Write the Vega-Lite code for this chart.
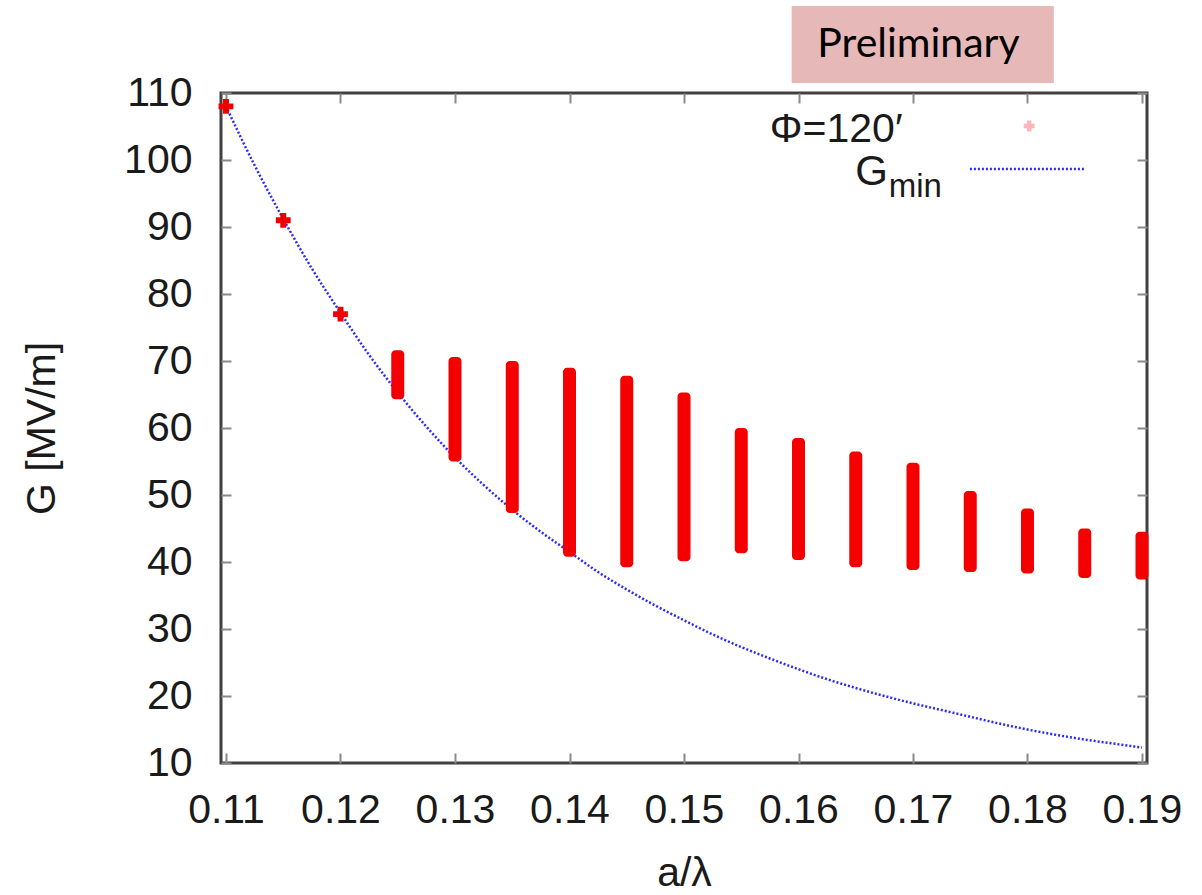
{
  "$schema": "https://vega.github.io/schema/vega-lite/v6.json",
  "width": 926,
  "height": 670,
  "autosize": "none",
  "padding": {"left": 221, "top": 93, "right": 55, "bottom": 132},
  "background": "white",
  "config": {
    "view": {"stroke": "#404040", "strokeWidth": 3},
    "font": "Liberation Sans",
    "axis": {
      "labelFont": "Liberation Sans",
      "titleFont": "Liberation Sans",
      "labelFontSize": 41,
      "titleFontSize": 41,
      "titleFontWeight": "normal",
      "labelColor": "#1a1a1a",
      "titleColor": "#1a1a1a",
      "grid": false,
      "domain": false,
      "tickColor": "#8a8a8a",
      "tickWidth": 2,
      "tickSize": -10
    }
  },
  "datasets": {
    "curve": [
      {"a": 0.11, "G": 108}, {"a": 0.1125, "G": 99.2}, {"a": 0.115, "G": 91.2}, {"a": 0.1175, "G": 83.8},
      {"a": 0.12, "G": 77.2}, {"a": 0.1225, "G": 70.9}, {"a": 0.125, "G": 65.3}, {"a": 0.1275, "G": 60.2},
      {"a": 0.13, "G": 55.6}, {"a": 0.1325, "G": 51.5}, {"a": 0.135, "G": 47.8}, {"a": 0.1375, "G": 44.5},
      {"a": 0.14, "G": 41.5}, {"a": 0.1425, "G": 38.5}, {"a": 0.145, "G": 35.9}, {"a": 0.1475, "G": 33.5},
      {"a": 0.15, "G": 31.3}, {"a": 0.1525, "G": 29.2}, {"a": 0.155, "G": 27.3}, {"a": 0.1575, "G": 25.6},
      {"a": 0.16, "G": 24.0}, {"a": 0.1625, "G": 22.5}, {"a": 0.165, "G": 21.2}, {"a": 0.1675, "G": 20.0},
      {"a": 0.17, "G": 18.9}, {"a": 0.1725, "G": 17.9}, {"a": 0.175, "G": 16.9}, {"a": 0.1775, "G": 15.9},
      {"a": 0.18, "G": 15.0}, {"a": 0.1825, "G": 14.2}, {"a": 0.185, "G": 13.5}, {"a": 0.1875, "G": 12.9},
      {"a": 0.19, "G": 12.3}
    ],
    "columns": [
      {"a": 0.125, "lo": 64.3, "hi": 71.6},
      {"a": 0.13, "lo": 55.0, "hi": 70.6},
      {"a": 0.135, "lo": 47.3, "hi": 70.0},
      {"a": 0.14, "lo": 40.8, "hi": 69.0},
      {"a": 0.145, "lo": 39.2, "hi": 67.8},
      {"a": 0.15, "lo": 40.1, "hi": 65.3},
      {"a": 0.155, "lo": 41.3, "hi": 60.0},
      {"a": 0.16, "lo": 40.3, "hi": 58.5},
      {"a": 0.165, "lo": 39.2, "hi": 56.5},
      {"a": 0.17, "lo": 38.8, "hi": 54.8},
      {"a": 0.175, "lo": 38.5, "hi": 50.6},
      {"a": 0.18, "lo": 38.3, "hi": 48.0},
      {"a": 0.185, "lo": 37.6, "hi": 45.0},
      {"a": 0.19, "lo": 37.4, "hi": 44.5}
    ],
    "single": [
      {"a": 0.11, "G": 108},
      {"a": 0.115, "G": 91},
      {"a": 0.12, "G": 77}
    ],
    "one": [{"k": 1}]
  },
  "resolve": {"axis": {"x": "independent", "y": "independent"}},
  "layer": [
    {
      "data": {"name": "curve"},
      "mark": {"type": "line", "interpolate": "monotone", "stroke": "#2a2aff", "strokeWidth": 2.5, "strokeDash": [2, 2], "clip": true},
      "encoding": {
        "x": {
          "field": "a", "type": "quantitative",
          "scale": {"domain": [0.11, 0.19], "nice": false, "zero": false},
          "axis": {"orient": "bottom", "values": [0.11, 0.12, 0.13, 0.14, 0.15, 0.16, 0.17, 0.18, 0.19], "format": ".2f", "labelPadding": 37, "labelBaseline": "top", "labelFlush": false, "title": "a/λ", "titlePadding": 23}
        },
        "y": {
          "field": "G", "type": "quantitative",
          "scale": {"domain": [10, 110], "nice": false, "zero": false},
          "axis": {"orient": "left", "values": [10, 20, 30, 40, 50, 60, 70, 80, 90, 100, 110], "labelPadding": 39, "labelFlush": false, "title": "G [MV/m]", "titlePadding": 60}
        }
      }
    },
    {
      "data": {"name": "columns"},
      "mark": {"type": "bar", "width": 13, "color": "#f50000", "cornerRadius": 4},
      "encoding": {
        "x": {"field": "a", "type": "quantitative", "axis": {"orient": "top", "values": [0.11, 0.12, 0.13, 0.14, 0.15, 0.16, 0.17, 0.18, 0.19], "labels": false, "title": null}},
        "y": {"field": "lo", "type": "quantitative", "axis": {"orient": "right", "values": [10, 20, 30, 40, 50, 60, 70, 80, 90, 100, 110], "labels": false, "title": null}},
        "y2": {"field": "hi"}
      }
    },
    {
      "data": {"name": "single"},
      "mark": {"type": "point", "shape": "cross", "filled": true, "size": 220, "color": "#ee0000", "opacity": 1},
      "encoding": {
        "x": {"field": "a", "type": "quantitative", "axis": null},
        "y": {"field": "G", "type": "quantitative", "axis": null}
      }
    },
    {
      "data": {"name": "one"},
      "mark": {"type": "rect", "color": "#e6b8b7"},
      "encoding": {
        "x": {"datum": 0.1594, "type": "quantitative", "axis": null},
        "x2": {"datum": 0.1823},
        "y": {"datum": 111.5, "type": "quantitative", "axis": null},
        "y2": {"datum": 123.0}
      }
    },
    {
      "data": {"name": "one"},
      "mark": {"type": "text", "text": "Preliminary", "font": "Lato", "fontSize": 41, "color": "#000000", "align": "center", "baseline": "alphabetic"},
      "encoding": {
        "x": {"datum": 0.17048, "type": "quantitative", "axis": null},
        "y": {"datum": 115.4, "type": "quantitative", "axis": null}
      }
    },
    {
      "data": {"name": "one"},
      "mark": {"type": "text", "text": "Φ=120′", "font": "Liberation Sans", "fontSize": 41, "color": "#1a1a1a", "align": "right", "baseline": "alphabetic"},
      "encoding": {
        "x": {"datum": 0.16909, "type": "quantitative", "axis": null},
        "y": {"datum": 102.69, "type": "quantitative", "axis": null}
      }
    },
    {
      "data": {"name": "one"},
      "mark": {"type": "point", "shape": "cross", "filled": true, "size": 120, "color": "#ff6060", "opacity": 0.45},
      "encoding": {
        "x": {"datum": 0.18015, "type": "quantitative", "axis": null},
        "y": {"datum": 105.07, "type": "quantitative", "axis": null}
      }
    },
    {
      "data": {"name": "one"},
      "mark": {"type": "text", "text": "G", "font": "Liberation Sans", "fontSize": 42, "color": "#1a1a1a", "align": "left", "baseline": "alphabetic"},
      "encoding": {
        "x": {"datum": 0.16495, "type": "quantitative", "axis": null},
        "y": {"datum": 96.2, "type": "quantitative", "axis": null}
      }
    },
    {
      "data": {"name": "one"},
      "mark": {"type": "text", "text": "min", "font": "Liberation Sans", "fontSize": 33, "color": "#1a1a1a", "align": "left", "baseline": "alphabetic"},
      "encoding": {
        "x": {"datum": 0.16788, "type": "quantitative", "axis": null},
        "y": {"datum": 94.48, "type": "quantitative", "axis": null}
      }
    },
    {
      "data": {"name": "one"},
      "mark": {"type": "rule", "stroke": "#2a2aff", "strokeWidth": 2.5, "strokeDash": [2, 2]},
      "encoding": {
        "x": {"datum": 0.17497, "type": "quantitative", "axis": null},
        "x2": {"datum": 0.18507},
        "y": {"datum": 98.66, "type": "quantitative", "axis": null}
      }
    }
  ]
}
